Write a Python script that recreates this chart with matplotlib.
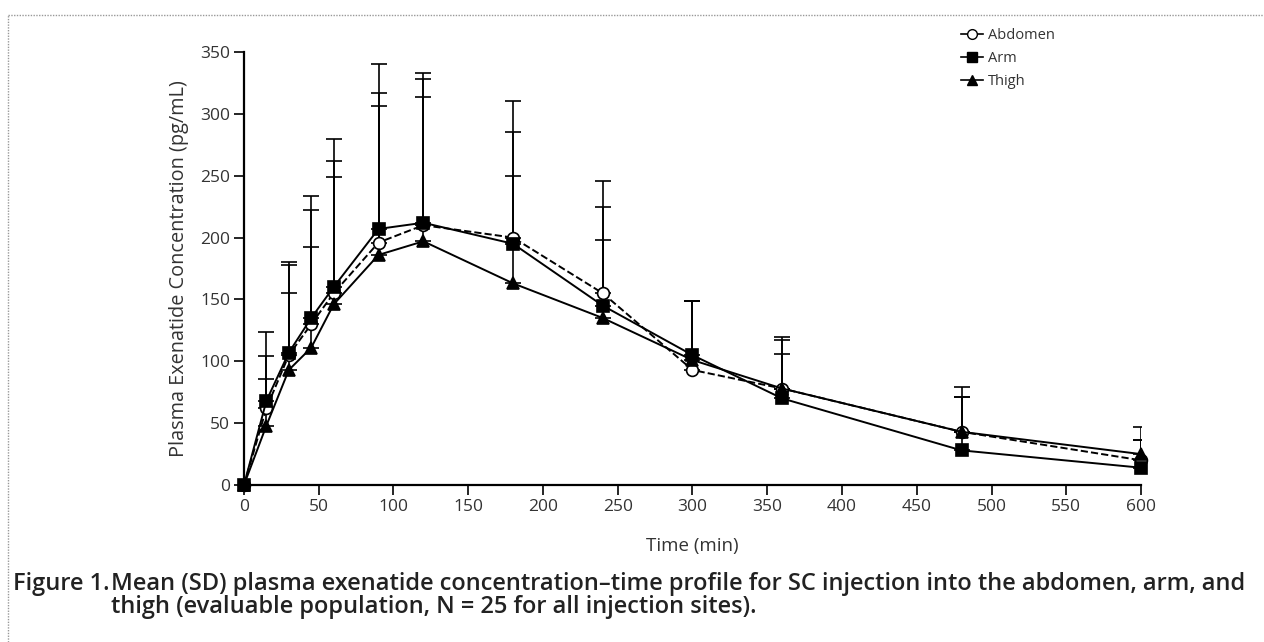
import numpy as np
import matplotlib.pyplot as plt
from matplotlib.lines import Line2D

# sampling times (min)
time_min = [0, 15, 30, 45, 60, 90, 120, 180, 240, 300, 360, 480, 600]

# mean plasma exenatide (pg/mL)
abdomen_mean = [0, 62, 105, 130, 155, 196, 210, 200, 155, 93, 78, 43, 20]
arm_mean = [0, 68, 107, 135, 160, 207, 212, 195, 145, 105, 70, 28, 14]
thigh_mean = [0, 48, 93, 111, 146, 186, 197, 163, 135, 101, 78, 43, 25]

# upper SD
abdomen_sd = [0, 42, 73, 92, 107, 121, 118, 110, 91, 56, 42, 36, 16]
arm_sd = [0, 56, 73, 99, 120, 133, 121, 90, 80, 44, 36, 43, 22]
thigh_sd = [0, 38, 62, 81, 103, 120, 117, 87, 63, 48, 39, 28, 22]

series_names = ['Abdomen', 'Arm', 'Thigh']

plt.rcParams['font.family'] = ['Open Sans', 'DejaVu Sans']
txt_col = '#333333'

fig = plt.figure(figsize=(12.64, 6.42), dpi=100)
ax = fig.add_axes([0.193, 0.2445, 0.7097, 0.6745])

styles = [
    (abdomen_mean, abdomen_sd, 'o', 'white', '--'),
    (arm_mean, arm_sd, 's', 'black', '-'),
    (thigh_mean, thigh_sd, '^', 'black', '-'),
]
for (mean, sd, mk, fc, ls), name in zip(styles, series_names):
    t = np.array(time_min)
    m = np.array(mean)
    s = np.array(sd)
    ax.errorbar(t[1:], m[1:], yerr=[np.zeros(len(s) - 1), s[1:]], fmt='none',
                ecolor='black', elinewidth=1.2, capsize=6, capthick=1.2, zorder=2)
    ax.plot(t, m, linestyle=ls, color='black', lw=1.4, marker=mk, ms=8.5,
            markerfacecolor=fc, markeredgecolor='black', markeredgewidth=1.2,
            clip_on=False, zorder=3, label=name)

ax.set_xlim(0, 600)
ax.set_ylim(0, 350)
ax.set_xticks(np.arange(0, 601, 50))
ax.set_yticks(np.arange(0, 351, 50))
for sp in ['top', 'right']:
    ax.spines[sp].set_visible(False)
for sp in ['left', 'bottom']:
    ax.spines[sp].set_linewidth(1.6)
ax.tick_params(direction='out', length=7, width=1.2, labelsize=12.5, labelcolor=txt_col, pad=3)
ax.set_xlabel('Time (min)', fontsize=13.5, color=txt_col, labelpad=16)
ax.set_ylabel('Plasma Exenatide Concentration (pg/mL)', fontsize=14.3, color=txt_col, labelpad=8)

handles = [
    Line2D([], [], color='black', lw=1.2, marker='o', ms=7, markerfacecolor='white'),
    Line2D([], [], color='black', lw=1.2, marker='s', ms=7),
    Line2D([], [], color='black', lw=1.2, marker='^', ms=7),
]
ax.legend(handles, series_names, loc='upper left', bbox_to_anchor=(0.785, 1.085),
          frameon=False, fontsize=10.5, handlelength=1.5, handletextpad=0.3,
          labelspacing=0.55, labelcolor=txt_col)

# dotted frame (top and left)
fig.add_artist(Line2D([8 / 1264, 1], [1 - 15 / 642, 1 - 15 / 642], transform=fig.transFigure,
                      color='#999999', lw=1, ls=(0, (1, 1))))
fig.add_artist(Line2D([8 / 1264, 8 / 1264], [0, 1 - 15 / 642], transform=fig.transFigure,
                      color='#999999', lw=1, ls=(0, (1, 1))))

cap_size = 17
fig.text(13 / 1264, 1 - 590 / 642, 'Figure 1.', fontsize=cap_size, color='#222222',
         fontweight='semibold', va='baseline')
fig.text(111 / 1264, 1 - 590 / 642,
         'Mean (SD) plasma exenatide concentration\u2013time profile for SC injection into the abdomen, arm, and',
         fontsize=cap_size, color='#222222', fontweight='semibold', va='baseline')
fig.text(111 / 1264, 1 - 613 / 642,
         'thigh (evaluable population, N = 25 for all injection sites).',
         fontsize=cap_size, color='#222222', fontweight='semibold', va='baseline')

fig.savefig('out.png', dpi=100)
